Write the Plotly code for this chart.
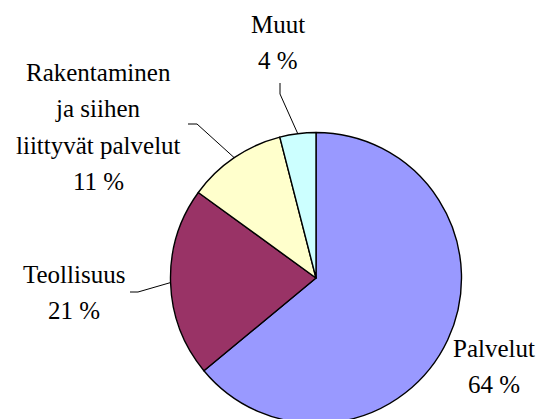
import math
import plotly.graph_objects as go

# Toimialojen osuudet
labels = ['Palvelut', 'Teollisuus', 'Rakentaminen ja siihen liittyvät palvelut', 'Muut']
label_lines = [['Palvelut'], ['Teollisuus'], ['Rakentaminen', 'ja siihen', 'liittyvät palvelut'], ['Muut']]
values = [64, 21, 11, 4]
colors = ['#9999FF', '#993366', '#FFFFCC', '#CCFFFF']

W, H = 544, 419
OFF = 8  # page body margin
cx, cy, r = 316, 278, 145.5  # pie centre/radius in page pixels

# label centre x / first-line y, and leader elbow points (page pixels)
label_pos = [(494, 348), (74, 274), (98, 72), (278, 24)]
line_gap = 36.5
leader_elbow = [None, [(130, 292), (138, 292)], [(188, 124), (197, 124)], [(280, 83), (280, 94)]]
FONT = dict(family='Liberation Serif, Times New Roman, Times, DejaVu Serif, serif', size=25, color='black')


def px(x):
    return (x - OFF) / W


def py(y):
    return 1 - (y - OFF) / H


fig = go.Figure(go.Pie(
    labels=labels,
    values=values,
    sort=False,
    direction='clockwise',
    rotation=0,
    marker=dict(colors=colors, line=dict(color='black', width=1.4)),
    textinfo='none',
    hoverinfo='label+percent',
    showlegend=False,
    domain=dict(x=[px(cx - r), px(cx + r)], y=[py(cy + r), py(cy - r)]),
))

shapes = []
annotations = []
total = sum(values)
cum = 0
for i, v in enumerate(values):
    mid = (cum + v / 2) / total * 2 * math.pi
    cum += v
    pct = round(v / total * 100)
    lx, ly = label_pos[i]
    for k, line in enumerate(label_lines[i] + [f'{pct} %']):
        annotations.append(dict(
            x=px(lx), y=py(ly + k * line_gap), xref='paper', yref='paper',
            text=line, showarrow=False, font=FONT,
            xanchor='center', yanchor='middle'))
    if leader_elbow[i]:
        ex = cx + r * math.sin(mid)
        ey = cy - r * math.cos(mid)
        pts = leader_elbow[i] + [(ex, ey)]
        path = 'M ' + ' L '.join(f'{px(a)} {py(b)}' for a, b in pts)
        shapes.append(dict(type='path', path=path, xref='paper', yref='paper',
                           line=dict(color='black', width=1)))

fig.update_layout(
    width=W, height=H,
    margin=dict(l=0, r=0, t=0, b=0),
    paper_bgcolor='white',
    plot_bgcolor='white',
    font=FONT,
    annotations=annotations,
    shapes=shapes,
)

fig.write_html('out.html')
